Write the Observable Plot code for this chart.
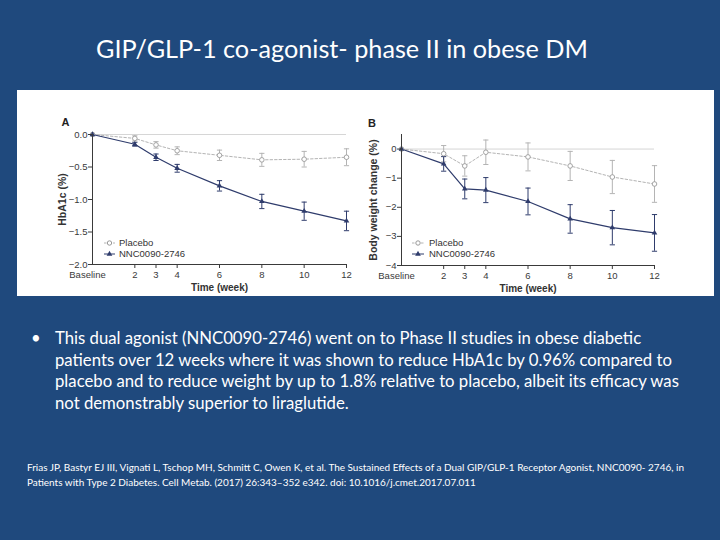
<!DOCTYPE html>
<html><head><meta charset="utf-8">
<script src="https://cdn.jsdelivr.net/npm/d3@7"></script>
<script src="https://cdn.jsdelivr.net/npm/@observablehq/plot@0.6"></script>
<style>
html,body{margin:0;padding:0;}
body{width:720px;height:540px;background:#1F497D;position:relative;overflow:hidden;font-family:Lato,"Open Sans",sans-serif;color:#fff;}
.abs{position:absolute;white-space:nowrap;line-height:1;}
#figure{position:absolute;left:17px;top:90px;width:697px;height:206px;background:#fff;}
#panelA{position:absolute;left:40px;top:100px;}
#panelB{position:absolute;left:365px;top:100px;}
</style></head><body>
<div id="title" class="abs" data-base="58" style="left:96px;font-size:26px;">GIP/GLP-1 co-agonist- phase II in obese DM</div>
<div id="figure"></div>
<div id="panelA"></div><div id="panelB"></div>
<div id="bullet" class="abs" style="left:31px;font-size:16px">•</div>
<div class="abs body" data-base="345" style="left:55px">This dual agonist (NNC0090-2746) went on to Phase II studies in obese diabetic</div>
<div class="abs body" data-base="366.7" style="left:55px">patients over 12 weeks where it was shown to reduce HbA1c by 0.96% compared to</div>
<div class="abs body" id="bodyfit" data-base="388.3" style="left:55px">placebo and to reduce weight by up to 1.8% relative to placebo, albeit its efficacy was</div>
<div class="abs body" data-base="410" style="left:55px">not demonstrably superior to liraglutide.</div>
<div class="abs cite" id="citefit" data-base="471" style="left:27px">Frias JP, Bastyr EJ III, Vignati L, Tschop MH, Schmitt C, Owen K, et al. The Sustained Effects of a Dual GIP/GLP-1 Receptor Agonist, NNC0090- 2746, in</div>
<div class="abs cite" data-base="486" style="left:27px">Patients with Type 2 Diabetes. Cell Metab. (2017) 26:343–352 e342. doi: 10.1016/j.cmet.2017.07.011</div>
<script>
// ---- data ----
const weeks = [0, 2, 3, 4, 6, 8, 10, 12];
const weekLabels = ["Baseline", "2", "3", "4", "6", "8", "10", "12"];
const seriesNames = ["Placebo", "NNC0090-2746"];

const hba1cPlacebo    = [0, -0.06, -0.16, -0.25, -0.32, -0.39, -0.38, -0.35];
const hba1cPlaceboErr = [0, 0.04, 0.05, 0.06, 0.08, 0.10, 0.12, 0.13];
const hba1cDrug       = [0, -0.15, -0.35, -0.52, -0.79, -1.03, -1.18, -1.33];
const hba1cDrugErr    = [0, 0.03, 0.05, 0.06, 0.08, 0.11, 0.14, 0.15];
const hba1cTicks = [0, -0.5, -1.0, -1.5, -2.0];

const weightPlacebo    = [0, -0.16, -0.58, -0.11, -0.27, -0.58, -0.96, -1.20];
const weightPlaceboErr = [0, 0.28, 0.35, 0.42, 0.48, 0.50, 0.57, 0.63];
const weightDrug       = [0, -0.51, -1.37, -1.41, -1.80, -2.40, -2.70, -2.88];
const weightDrugErr    = [0, 0.25, 0.34, 0.43, 0.46, 0.49, 0.59, 0.63];
const weightTicks = [0, -1, -2, -3, -4];

// ---- text fitting ----
function fit(el, target) {
  const w = el.getBoundingClientRect().width;
  const fs = parseFloat(getComputedStyle(el).fontSize);
  return fs * target / w;
}
function place(el) {
  const fs = parseFloat(getComputedStyle(el).fontSize);
  el.style.top = (parseFloat(el.dataset.base) - 0.887 * fs) + "px";
}
const title = document.getElementById("title");
title.style.fontSize = fit(title, 492) + "px";
place(title);
const bodyFit = document.getElementById("bodyfit");
bodyFit.style.fontSize = "16px";
const bfs = fit(bodyFit, 624);
document.querySelectorAll(".body").forEach(el => { el.style.fontSize = bfs + "px"; place(el); });
const bullet = document.getElementById("bullet");
bullet.style.fontSize = bfs + "px"; bullet.style.top = (345 - 0.887 * bfs) + "px";
const citeFit = document.getElementById("citefit");
citeFit.style.fontSize = "10px";
const cfs = fit(citeFit, 658);
document.querySelectorAll(".cite").forEach(el => { el.style.fontSize = cfs + "px"; place(el); });

// ---- chart ----
const drugColor = "#2f3c6c";
const placeboColor = "#b4b4b4";
const axisColor = "#3a3a3a";
const cap = { draw(ctx, size) { const r = Math.sqrt(size / Math.PI); ctx.moveTo(-r, 0); ctx.lineTo(r, 0); } };

function rows(vals, errs, name) {
  return weeks.map((w, i) => ({ week: w, value: vals[i], err: errs[i], group: name }));
}

function legend(lx, ly) {
  return (index, scales, values, dim) => {
    const g = d3.create("svg:g").attr("font-size", 9.5).attr("text-anchor", "start");
    const x0 = dim.marginLeft, yb = dim.height - dim.marginBottom;
    const items = [
      { name: seriesNames[0], y: yb - ly[0], dash: "2.5,2", color: placeboColor, mark: "circle" },
      { name: seriesNames[1], y: yb - ly[1], dash: null, color: drugColor, mark: "tri" }
    ];
    for (const it of items) {
      const l = g.append("line").attr("x1", x0 + lx[0]).attr("x2", x0 + lx[1]).attr("y1", it.y).attr("y2", it.y)
        .attr("stroke", it.color).attr("stroke-width", 1).attr("fill", "none");
      if (it.dash) l.attr("stroke-dasharray", it.dash);
      const cx = x0 + (lx[0] + lx[1]) / 2;
      if (it.mark === "circle") g.append("circle").attr("cx", cx).attr("cy", it.y).attr("r", 2.2).attr("fill", "#fff").attr("stroke", "#999");
      else g.append("path").attr("d", d3.symbol(d3.symbolTriangle, 14)()).attr("transform", `translate(${cx},${it.y})`).attr("fill", drugColor).attr("stroke", "none");
      g.append("text").attr("x", x0 + lx[2]).attr("y", it.y).attr("dy", "0.35em").attr("fill", "#333").attr("stroke", "none").text(it.name);
    }
    return g.node();
  };
}

function panel({ letter, ylabel, domain, ticks, fmt, placebo, drug, width, margins, letterPos, ylabelDx, lx, ly }) {
  const all = [...placebo, ...drug];
  const err = all.filter(d => d.week > 0);
  return Plot.plot({
    width, height: 196,
    marginLeft: margins[0], marginRight: margins[1], marginTop: margins[2], marginBottom: margins[3],
    style: { fontFamily: "'Liberation Sans', Arial, sans-serif", fontSize: "9.5px", color: axisColor, background: "transparent", overflow: "visible" },
    x: { domain: [0, 12], label: null },
    y: { domain, label: null },
    marks: [
      Plot.ruleY([0], { stroke: "#d6d6d6", strokeWidth: 1 }),
      Plot.ruleX(err, { x: "week", y1: d => d.value - d.err, y2: d => d.value + d.err, stroke: d => d.group === seriesNames[0] ? placeboColor : drugColor, strokeWidth: 1 }),
      Plot.dot(err, { x: "week", y: d => d.value + d.err, symbol: cap, r: 2.6, stroke: d => d.group === seriesNames[0] ? placeboColor : drugColor, strokeWidth: 1 }),
      Plot.dot(err, { x: "week", y: d => d.value - d.err, symbol: cap, r: 2.6, stroke: d => d.group === seriesNames[0] ? placeboColor : drugColor, strokeWidth: 1 }),
      Plot.line(placebo, { x: "week", y: "value", stroke: placeboColor, strokeWidth: 1, strokeDasharray: "2.5,2" }),
      Plot.line(drug, { x: "week", y: "value", stroke: drugColor, strokeWidth: 1.2 }),
      Plot.dot(placebo, { x: "week", y: "value", r: 2.3, fill: "#fff", stroke: "#9a9a9a", strokeWidth: 0.9 }),
      Plot.dot(drug, { x: "week", y: "value", symbol: "triangle", r: 2.1, fill: drugColor }),
      Plot.ruleX([0], { stroke: axisColor, strokeWidth: 1 }),
      Plot.ruleY([domain[0]], { stroke: axisColor, strokeWidth: 1 }),
      Plot.axisY({ ticks, tickFormat: fmt, tickSize: 4, tickPadding: 1, stroke: axisColor, fill: axisColor, label: null }),
      Plot.axisX({ ticks: weeks.slice(1), tickFormat: d => weekLabels[weeks.indexOf(d)], tickSize: 4, tickPadding: 3, stroke: axisColor, fill: axisColor, label: null }),
      Plot.axisX({ ticks: [0], tickFormat: d => weekLabels[weeks.indexOf(d)], tickSize: 0, tickPadding: 7, dx: -5, fill: axisColor, label: null }),
      Plot.text(["Time (week)"], { frameAnchor: "bottom", lineAnchor: "middle", textAnchor: "middle", dy: 23.5, fontWeight: "bold", fontSize: 10, fill: "#333" }),
      Plot.text([ylabel], { frameAnchor: "left", rotate: -90, textAnchor: "middle", lineAnchor: "middle", dx: ylabelDx, fontWeight: "bold", fontSize: 10.5, fill: "#333" }),
      Plot.text([letter], { frameAnchor: "top-left", textAnchor: "middle", lineAnchor: "middle", dx: letterPos[0], dy: letterPos[1], fontWeight: "bold", fontSize: 11, fill: "#222" }),
      legend(lx, ly)
    ]
  });
}

document.getElementById("panelA").append(panel({
  letter: "A", ylabel: "HbA1c (%)", domain: [-2, 0], ticks: hba1cTicks, fmt: d3.format(".1f"),
  placebo: rows(hba1cPlacebo, hba1cPlaceboErr, seriesNames[0]),
  drug: rows(hba1cDrug, hba1cDrugErr, seriesNames[1]),
  width: 325, margins: [52, 19, 34, 32], letterPos: [-27, -12.2], ylabelDx: -30,
  lx: [12, 23, 27], ly: [21, 10]
}));
document.getElementById("panelB").append(panel({
  letter: "B", ylabel: "Body weight change (%)", domain: [-4, 0.5], ticks: weightTicks, fmt: d3.format("d"),
  placebo: rows(weightPlacebo, weightPlaceboErr, seriesNames[0]),
  drug: rows(weightDrug, weightDrugErr, seriesNames[1]),
  width: 335, margins: [36, 46, 34, 31], letterPos: [-29.5, -11], ylabelDx: -28,
  lx: [11, 23, 28], ly: [22, 11]
}));
</script>
</body></html>
